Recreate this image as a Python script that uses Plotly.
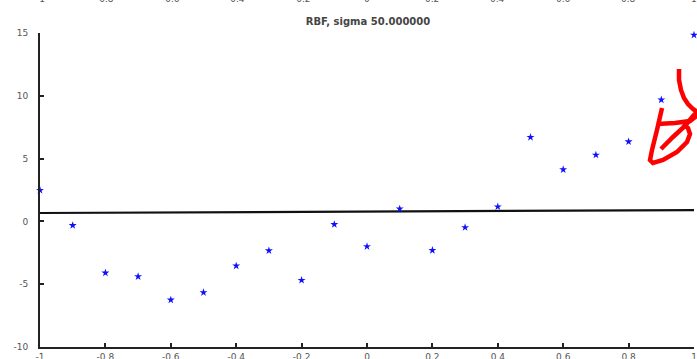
import plotly.graph_objects as go

# ---- data ----
x_vals = [-1.0, -0.9, -0.8, -0.7, -0.6, -0.5, -0.4, -0.3, -0.2, -0.1, 0.0,
          0.1, 0.2, 0.3, 0.4, 0.5, 0.6, 0.7, 0.8, 0.9, 1.0]
y_vals = [2.48, -0.32, -4.1, -4.39, -6.25, -5.66, -3.54, -2.33, -4.68, -0.24, -2.0,
          1.0, -2.3, -0.48, 1.17, 6.7, 4.13, 5.29, 6.35, 9.68, 14.84]
fit_x = [-1.0, 1.0]
fit_y = [0.67, 0.90]
x_ticks = [-1, -0.8, -0.6, -0.4, -0.2, 0, 0.2, 0.4, 0.6, 0.8, 1]
x_ticktext = ["-1", "-0.8", "-0.6", "-0.4", "-0.2", "0", "0.2", "0.4", "0.6", "0.8", "1"]
y_ticks = [-10, -5, 0, 5, 10, 15]
y_ticktext = ["-10", "-5", "0", "5", "10", "15"]
title_text = "RBF, sigma 50.000000"

W, H = 697, 359
ML, MR, MT, MB = 40, 3, 33, 12
PW, PH = W - ML - MR, H - MT - MB

def px(xp, yp):
    return (xp - ML) / PW, (H - MB - yp) / PH

# hand-drawn red scribble (pixel positions in the picture)
strokes = [
    [(679, 69), (679, 80), (681, 90), (684, 98), (688, 104), (693, 109), (699, 113)],
    [(662, 108), (657, 130), (652, 150), (650, 160), (653, 163), (663, 160),
     (677, 152), (687, 142), (690, 134), (688, 128), (683, 124)],
    [(661, 149), (673, 137), (685, 126), (693, 116), (699, 110)],
    [(657, 124), (675, 123), (690, 121), (699, 114)],
]

fig = go.Figure()
fig.add_trace(go.Scatter(x=fit_x, y=fit_y, mode="lines",
                         line=dict(color="#111", width=2.2), hoverinfo="skip"))
fig.add_trace(go.Scatter(x=x_vals, y=y_vals, mode="markers", cliponaxis=False,
                         marker=dict(symbol="star", size=6, color="#1010ff",
                                     line=dict(width=0))))

shapes = []
for s in strokes:
    pts = [px(a, b) for a, b in s]
    d = "M " + " L ".join(f"{p[0]:.4f},{p[1]:.4f}" for p in pts)
    shapes.append(dict(type="path", xref="paper", yref="paper", path=d,
                       line=dict(color="#ff0000", width=4.5), layer="above"))

FONT = "DejaVu Sans"
annotations = []
# partially visible tick labels of the plot above (cut off at the top edge)
for v, t in zip(x_ticks, x_ticktext):
    xp = (v + 1) / 2
    annotations.append(dict(x=xp, y=(H - MB + 1) / PH, xref="paper", yref="paper",
                            xanchor="center", yanchor="middle",
                            text=t, showarrow=False,
                            font=dict(size=9, color="#555", family=FONT)))

tickfont = dict(size=9, color="#555", family=FONT)
fig.update_layout(
    width=W, height=H,
    margin=dict(l=ML, r=MR, t=MT, b=MB, autoexpand=False),
    paper_bgcolor="white", plot_bgcolor="white",
    showlegend=False,
    title=dict(text=title_text, x=368 / W, xanchor="center",
               y=1 - 21 / H, yanchor="middle",
               font=dict(size=10, color="#444", family=FONT, weight="bold")),
    shapes=shapes,
    annotations=annotations,
    xaxis=dict(range=[-1, 1], tickvals=x_ticks, ticktext=x_ticktext, automargin=False,
               ticks="inside", ticklen=4, tickwidth=2, tickcolor="#222",
               showline=True, linecolor="#222", linewidth=2, mirror=False,
               showgrid=False, zeroline=False, tickfont=tickfont),
    yaxis=dict(range=[-10, 15], tickvals=y_ticks, ticktext=y_ticktext, automargin=False,
               ticks="inside", ticklen=4, tickwidth=2, tickcolor="#222",
               ticklabelstandoff=8,
               showline=True, linecolor="#222", linewidth=2, mirror=False,
               showgrid=False, zeroline=False, tickfont=tickfont),
)

fig.write_html("out.html", config={"displayModeBar": False},
               post_script="document.body.style.margin='0px';document.body.style.overflow='hidden';")
